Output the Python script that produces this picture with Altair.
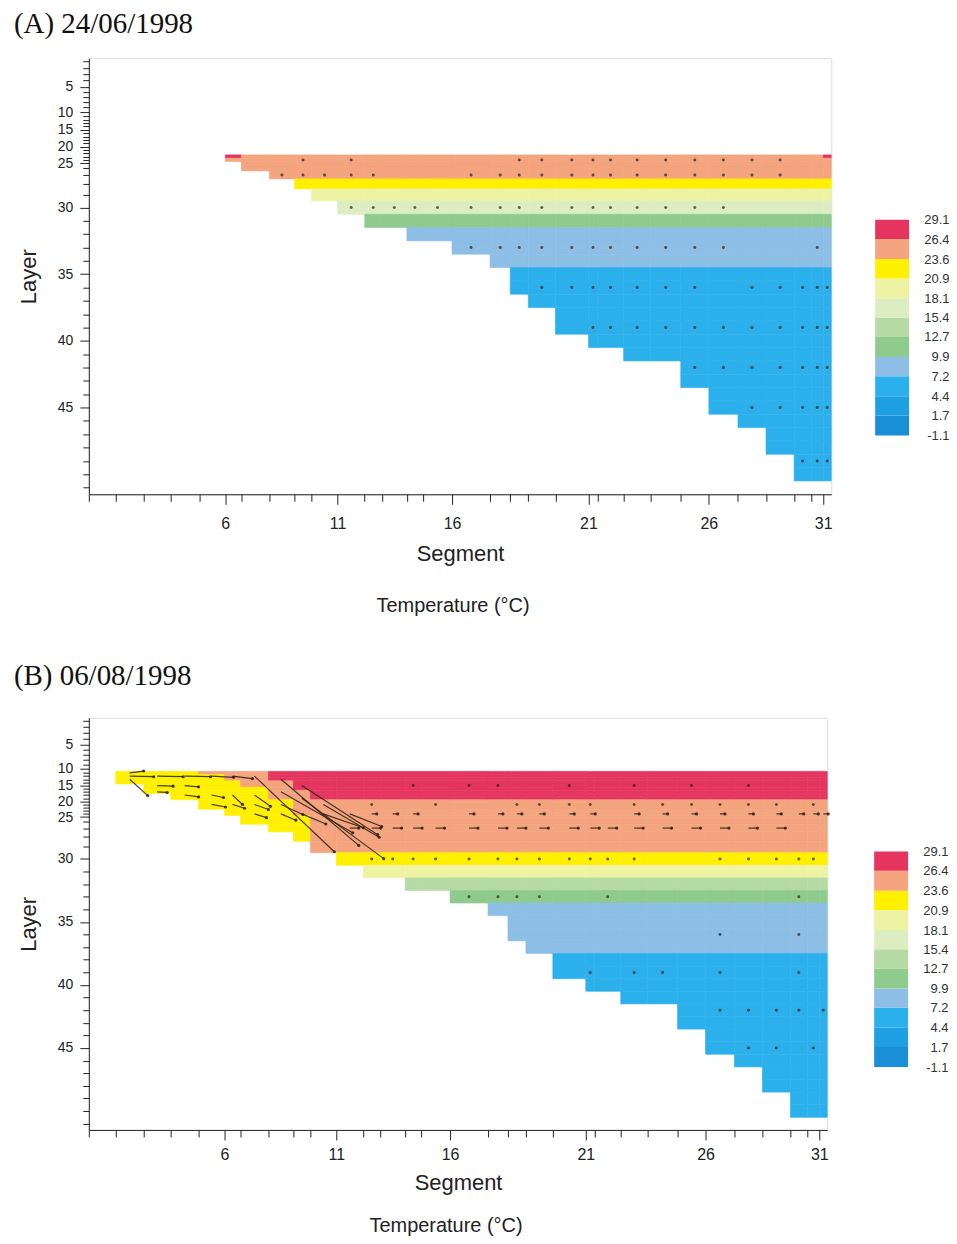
import altair as alt
import pandas as pd

# ---------------- model grid ----------------
segment_ids = list(range(1, 32))
# upstream edge of each segment along the reservoir (km)
seg_start_km = [0.0, 2.7, 5.5, 8.2, 11.0, 13.6, 15.2, 18.0, 20.5, 22.2,
                24.8, 27.5, 29.2, 31.7, 33.3, 36.2, 40.0, 42.0, 43.8, 46.5,
                49.8, 50.7, 53.3, 56.0, 59.0, 61.8, 64.7, 67.5, 70.3, 72.0, 73.2]
reach_end_km = 74.0

layer_ids = list(range(1, 52))
layer_thickness_m = [0.95, 0.95, 0.95, 0.95, 0.95,                       # 1-5
                     0.75, 0.75, 0.75, 0.75, 0.75,                       # 6-10
                     0.5, 0.5, 0.5, 0.5, 0.5, 0.5, 0.5, 0.5, 0.5, 0.5,   # 11-20
                     0.5, 0.5, 0.5, 0.5, 0.5,                            # 21-25
                     0.9, 1.2, 1.5, 1.8,                                 # 26-29
                     2.0, 2.0, 2.0, 2.0, 2.0, 2.0, 2.0, 2.0, 2.0, 2.0,   # 30-39
                     2.0, 2.0, 2.0, 2.0, 2.0, 2.0, 2.0, 2.0, 2.0, 2.0,   # 40-49
                     2.0, 2.0]                                           # 50-51

# deepest active layer in each segment (0 = no water)
bottom_layer = [0, 14, 17, 19, 22, 24, 26, 27, 28, 29, 30, 31, 31, 32, 32,
                33, 34, 36, 37, 39, 40, 40, 41, 41, 43, 45, 46, 48, 50, 50, 50]

segment_tick_labels = [6, 11, 16, 21, 26, 31]
layer_tick_labels = [5, 10, 15, 20, 25, 30, 35, 40, 45]

temp_bounds = [-1.1, 1.7, 4.4, 7.2, 9.9, 12.7, 15.4, 18.1, 20.9, 23.6, 26.4, 29.1]
temp_colors = ['#1a8fd8', '#1f9fe3', '#2cb0ec', '#8cbee6', '#8fcb8c', '#b6daa4',
               '#ddedc2', '#eef3a4', '#fff000', '#f4a47e', '#e5355f']

# ---------------- (A) 24/06/1998 ----------------
surface_A = 23
profile_A = [25.6, 25.3, 25.0, 24.7, 24.0, 22.4, 19.6, 16.8, 12.0, 8.9,
             8.6, 8.0, 6.9, 6.7, 6.5, 6.3, 6.2, 6.0, 5.9, 5.8,
             5.7, 5.6, 5.5, 5.4, 5.3, 5.2, 5.1, 5.0]          # layers 23..50
override_A_seg = [6, 31]
override_A_layer = [23, 23]
override_A_temp = [27.2, 26.9]
dots_A = {
    24: [9, 11, 18, 19, 20, 21, 22, 23, 24, 25, 26, 27, 28],
    27: [8, 9, 10, 11, 12, 16, 17, 18, 19, 20, 21, 22, 23, 24, 25, 26, 27, 28],
    30: [11, 12, 13, 14, 15, 16, 17, 18, 19, 20, 21, 22, 23, 24, 25, 26],
    33: [16, 17, 18, 19, 20, 21, 22, 23, 24, 25, 26, 30],
    36: [19, 20, 21, 22, 23, 24, 25, 27, 28, 29, 30, 31],
    39: [21, 22, 23, 24, 25, 26, 27, 28, 29, 30, 31],
    42: [25, 26, 27, 28, 29, 30, 31],
    45: [27, 28, 29, 30, 31],
    49: [29, 30, 31],
}

# ---------------- (B) 06/08/1998 ----------------
surface_B = 11
profile_B = [28.6, 28.5, 28.4, 28.3, 28.2, 28.0, 27.8, 27.4, 26.9,
             26.2, 26.0, 25.8, 25.6, 25.4, 25.2, 25.0, 24.7, 24.3, 24.0,
             22.0, 19.5, 15.0, 11.5,
             8.8, 8.6, 8.3, 7.9,
             6.8, 6.6, 6.4, 6.2, 6.0, 5.9, 5.8, 5.6, 5.5, 5.4, 5.3, 5.2, 5.1]  # layers 11..50
upstream_B = {
    2: [22.6, 22.5, 22.4, 22.3],
    3: [22.9, 22.7, 22.5, 22.4, 22.3, 22.2, 22.1],
    4: [23.3, 23.0, 22.8, 22.6, 22.4, 22.3, 22.2, 22.1, 22.0],
    5: [23.9, 23.4, 23.1, 22.9, 22.7, 22.6, 22.5, 22.4, 22.3, 22.2, 22.1, 22.0],
    6: [25.0, 24.5, 23.9, 23.4, 23.1, 22.9, 22.7, 22.6, 22.5, 22.4, 22.3, 22.2, 22.1, 22.0],
    7: [25.8, 25.4, 25.0, 24.5, 24.0, 23.5, 23.2, 23.0, 22.8, 22.6, 22.5, 22.4, 22.3, 22.2, 22.1, 22.0],
    8: [27.0, 26.8, 26.5, 26.0, 25.6, 25.2, 24.8, 24.3, 23.8, 23.4, 23.1, 22.9, 22.7, 22.5, 22.4, 22.3, 22.2],
    9: [27.8, 27.6, 27.4, 27.1, 26.8, 26.5, 26.1, 25.8, 25.5, 25.2, 24.9, 24.6, 24.2, 23.8, 23.3, 23.0, 22.7, 22.5],
}
dots_B = {
    15: [14, 16, 17, 20, 23, 25, 27],
    21: [12, 15, 18, 19, 20, 21, 23, 24, 25, 26, 27, 28, 30],
    30: [12, 13, 14, 15, 16, 17, 18, 19, 20, 21, 22, 23, 26, 27, 28, 29, 30],
    33: [16, 17, 18, 19, 22, 29],
    36: [26, 29],
    39: [21, 23, 24, 26, 29],
    42: [26, 27, 28, 29, 31],
    45: [27, 28, 30],
}
dash_B_layer24 = [12, 13, 14, 16, 17, 18, 19, 20, 21, 23, 24, 25, 26, 27, 28, 29, 30, 31]
dash_B_layer24_dx = 0.5
dash_B_layer27 = [11, 12, 13, 14, 15, 16, 17, 18, 19, 20, 21, 22, 23, 24, 25, 26, 27, 28]
dash_B_layer27_dx = 0.9
arrow_B_seg = [2, 2, 3, 4, 5, 6, 2, 3, 4, 3, 4, 5, 5, 6, 6,
               7, 7, 7, 7, 8, 8, 8, 8, 9, 9, 9, 10, 10, 11]
arrow_B_layer = [11, 12, 12, 12, 12, 12, 13, 15, 15, 17, 18, 18, 21, 18, 21,
                 12, 18, 21, 24, 13, 17, 21, 24, 15, 19, 24, 21, 24, 24]
arrow_B_dx = [1.4, 2.4, 2.6, 2.6, 2.2, 2.0, 1.8, 1.6, 1.4, 1.0, 1.4, 1.2, 1.4, 1.0, 1.2,
              8.0, 1.6, 1.4, 1.2, 7.8, 7.2, 2.2, 1.5, 7.6, 8.2, 2.4, 5.6, 4.0, 3.2]
arrow_B_dz = [-0.3, 0.1, 0.1, 0.1, 0.2, 0.4, 2.6, 0.1, 0.2, 0.1, 0.3, 0.4, 0.4, 1.5, 0.6,
              12.0, 1.8, 0.8, 0.6, 10.5, 6.5, 1.6, 1.0, 7.8, 9.6, 1.6, 5.2, 2.2, 2.0]

# ---------------- derived geometry ----------------
seg_end_km = seg_start_km[1:] + [reach_end_km]
layer_top, layer_bot = [], []
_d = 0.0
for _t in layer_thickness_m:
    layer_top.append(round(_d, 4))
    _d += _t
    layer_bot.append(round(_d, 4))
depth_max = layer_bot[-1]
layer_mid = [round((a + b) / 2, 4) for a, b in zip(layer_top, layer_bot)]
seg_mid = [(a + b) / 2 for a, b in zip(seg_start_km, seg_end_km)]

thr_scale = alt.Scale(type='threshold', domain=temp_bounds[1:-1], range=temp_colors)
INK = '#222222'
SANS = 'Liberation Sans'


def label_expr(values, labels):
    parts = [f"abs(datum.value - {v}) < 0.001 ? '{lab}'" for v, lab in zip(values, labels)]
    return " : ".join(parts) + " : ''"


def major_test(values):
    return " || ".join(f"abs(datum.value - {v}) < 0.001" for v in values)


x_tick_vals = [round(v, 4) for v in seg_start_km]
x_major = [x_tick_vals[s - 1] for s in segment_tick_labels]
y_major = [layer_mid[l - 1] for l in layer_tick_labels]
x_expr = label_expr(x_major, segment_tick_labels)
y_expr = label_expr(y_major, layer_tick_labels)


def build_cells(surface, profile, upstream, overrides):
    rows = []
    for i, s in enumerate(segment_ids):
        bl = bottom_layer[i]
        if bl < surface:
            continue
        for L in range(surface, bl + 1):
            t = upstream[s][L - surface] if s in upstream else profile[L - surface]
            if (s, L) in overrides:
                t = overrides[(s, L)]
            rows.append(dict(seg=s, layer=L, x0=seg_start_km[i], x1=seg_end_km[i],
                             top=layer_top[L - 1], bot=layer_bot[L - 1], temp=t))
    return pd.DataFrame(rows)


def build_dots(dots):
    rows = []
    for L, segs in dots.items():
        for s in segs:
            rows.append(dict(xc=seg_mid[s - 1], yc=layer_mid[L - 1]))
    return pd.DataFrame(rows)


def build_arrows(segs, layers, dxs, dzs):
    rows = []
    for s, L, dx, dz in zip(segs, layers, dxs, dzs):
        rows.append(dict(xc=seg_mid[s - 1], yc=layer_mid[L - 1],
                         xe=seg_mid[s - 1] + dx, ye=layer_mid[L - 1] + dz))
    return pd.DataFrame(rows)


def main_panel(cells, dots, arrows, width, height, lab_pad, ttl_pad, cap_off, cap_dx):
    base_x = alt.X('x0:Q', scale=alt.Scale(domain=[0, reach_end_km], nice=False, zero=False),
                   axis=alt.Axis(values=x_tick_vals, labelExpr=x_expr, title='Segment',
                                 tickCount=200,
                                 tickSize={"condition": {"test": major_test(x_major), "value": 10}, "value": 7},
                                 labelFontSize=16, titleFontSize=22,
                                 labelPadding=lab_pad, titlePadding=ttl_pad, labelFlush=False,
                                 labelOverlap=False, grid=False, titleFontWeight='normal',
                                 labelFont=SANS, titleFont=SANS, labelColor=INK, titleColor=INK,
                                 domainColor=INK, tickColor=INK))
    base_y = alt.Y('top:Q', scale=alt.Scale(domain=[0, depth_max], reverse=True, nice=False, zero=False),
                   axis=alt.Axis(values=layer_mid, labelExpr=y_expr, title='Layer',
                                 tickCount=200,
                                 tickSize={"condition": {"test": major_test(y_major), "value": 9}, "value": 6},
                                 labelFontSize=14, titleFontSize=22,
                                 labelPadding=7, titlePadding=17, labelFlush=False,
                                 labelOverlap=False, grid=False, titleFontWeight='normal',
                                 labelFont=SANS, titleFont=SANS, labelColor=INK, titleColor=INK,
                                 domainColor=INK, tickColor=INK))
    rects = alt.Chart(cells).mark_rect(strokeWidth=0.6).encode(
        x=base_x, x2='x1:Q', y=base_y, y2='bot:Q',
        color=alt.Color('temp:Q', scale=thr_scale, legend=None),
        stroke=alt.Stroke('temp:Q', scale=thr_scale, legend=None),
    )
    pts = alt.Chart(dots).mark_point(filled=True, size=9, color='#2b1d12', opacity=0.7).encode(
        x='xc:Q', y='yc:Q')
    layers = [rects, pts]
    if arrows is not None:
        rules = alt.Chart(arrows).mark_rule(color='#2b1d12', strokeWidth=1.2, opacity=0.85).encode(
            x='xc:Q', x2='xe:Q', y='yc:Q', y2='ye:Q')
        heads = alt.Chart(arrows).mark_point(filled=True, size=10, color='#2b1d12', opacity=0.85).encode(
            x='xe:Q', y='ye:Q')
        layers += [rules, heads]
    return alt.layer(*layers).properties(
        width=width, height=height,
        title=alt.TitleParams('Temperature (°C)', orient='bottom', anchor='middle',
                              font=SANS, fontSize=20, fontWeight='normal',
                              color=INK, offset=cap_off, dx=cap_dx))


def legend_panel(height, dom_lo, dom_hi):
    df = pd.DataFrame({'lo': temp_bounds[:-1], 'hi': temp_bounds[1:]})
    df['mid'] = (df['lo'] + df['hi']) / 2
    return alt.Chart(df).mark_rect().encode(
        x=alt.value(0), x2=alt.value(34),
        y=alt.Y('lo:Q', scale=alt.Scale(domain=[dom_lo, dom_hi], nice=False, zero=False),
                axis=alt.Axis(orient='right', values=temp_bounds, tickCount=50,
                              labelExpr="datum.value < 0 ? '-' + format(-datum.value, '.1f') : format(datum.value, '.1f')",
                              domain=False, ticks=False, grid=False, labelAlign='right',
                              labelPadding=40, labelFontSize=13, labelColor='#333',
                              labelFont=SANS, labelOverlap=False, labelFlush=False, title=None)),
        y2='hi:Q',
        color=alt.Color('mid:Q', scale=thr_scale, legend=None),
    ).properties(width=34, height=height, view=alt.ViewBackground(strokeWidth=0))


ov_A = {(s, L): t for s, L, t in zip(override_A_seg, override_A_layer, override_A_temp)}
cells_A = build_cells(surface_A, profile_A, {}, ov_A)
cells_B = build_cells(surface_B, profile_B, upstream_B, {})
dots_df_A = build_dots(dots_A)
dots_df_B = build_dots(dots_B)
arr_B = build_arrows(
    arrow_B_seg + dash_B_layer24 + dash_B_layer27,
    arrow_B_layer + [24] * len(dash_B_layer24) + [27] * len(dash_B_layer27),
    arrow_B_dx + [dash_B_layer24_dx] * len(dash_B_layer24) + [dash_B_layer27_dx] * len(dash_B_layer27),
    arrow_B_dz + [0.0] * len(dash_B_layer24) + [0.0] * len(dash_B_layer27),
)

row_A = alt.hconcat(
    main_panel(cells_A, dots_df_A, None, 744, 437, 11, 12, 32, -7),
    legend_panel(437, -9.35, 51.75),
    spacing=42,
).properties(title=alt.TitleParams('(A) 24/06/1998', anchor='start', frame='bounds',
                                   font='Liberation Serif', fontSize=29, fontWeight='normal',
                                   color='#111', offset=15, dx=-3))

row_B = alt.hconcat(
    main_panel(cells_B, dots_df_B, arr_B, 740, 413, 7, 10, 22, -12),
    legend_panel(413, -9.91, 47.84),
    spacing=43,
).properties(title=alt.TitleParams('(B) 06/08/1998', anchor='start', frame='bounds',
                                   font='Liberation Serif', fontSize=29, fontWeight='normal',
                                   color='#111', offset=22, dx=-3))

chart = alt.vconcat(row_A, row_B, spacing=45).properties(
    padding={'left': 5, 'top': 0, 'right': 0, 'bottom': 0}
).configure_view(
    stroke='#777', strokeWidth=1
).configure(background='white')

chart.save("out.html", embed_options={"renderer": "svg", "actions": False})
